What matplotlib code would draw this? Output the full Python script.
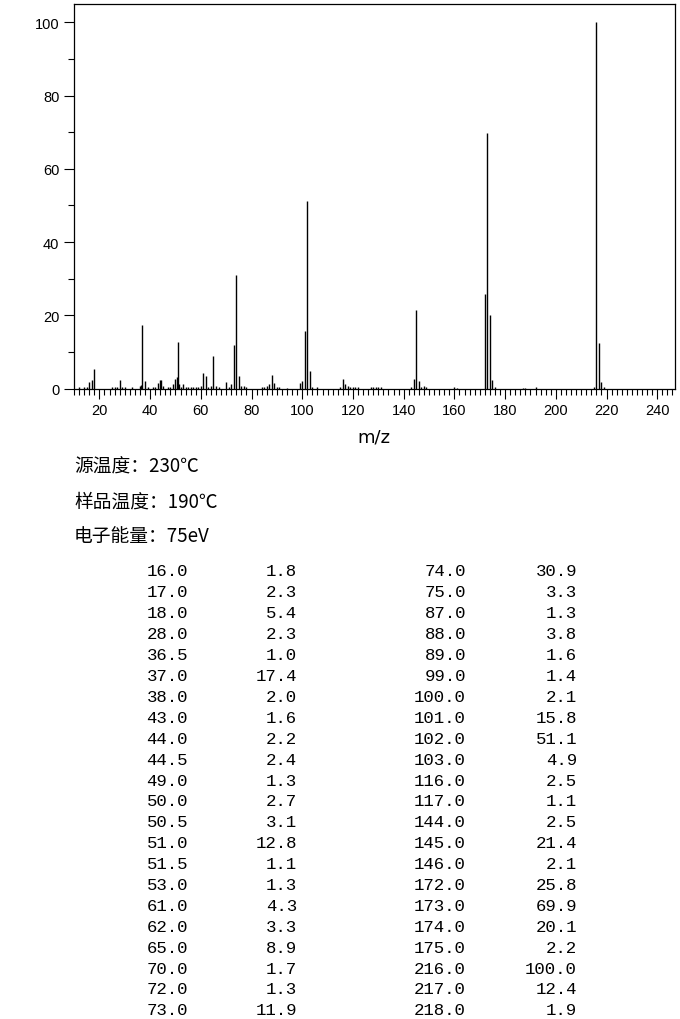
import numpy as np
import matplotlib.pyplot as plt
from matplotlib.ticker import MultipleLocator

# Picos listados en la tabla (m/z, intensidad relativa)
mz_tabla = [16.0, 17.0, 18.0, 28.0, 36.5, 37.0, 38.0, 43.0, 44.0, 44.5, 49.0,
            50.0, 50.5, 51.0, 51.5, 53.0, 61.0, 62.0, 65.0, 70.0, 72.0, 73.0,
            74.0, 75.0, 87.0, 88.0, 89.0, 99.0, 100.0, 101.0, 102.0, 103.0, 116.0,
            117.0, 144.0, 145.0, 146.0, 172.0, 173.0, 174.0, 175.0, 216.0, 217.0, 218.0]
int_tabla = [1.8, 2.3, 5.4, 2.3, 1.0, 17.4, 2.0, 1.6, 2.2, 2.4, 1.3,
             2.7, 3.1, 12.8, 1.1, 1.3, 4.3, 3.3, 8.9, 1.7, 1.3, 11.9,
             30.9, 3.3, 1.3, 3.8, 1.6, 1.4, 2.1, 15.8, 51.1, 4.9, 2.5,
             1.1, 2.5, 21.4, 2.1, 25.8, 69.9, 20.1, 2.2, 100.0, 12.4, 1.9]

mz_menor = [12, 14, 15, 25, 26, 27, 29, 30, 33, 36, 39, 41, 42, 45, 47, 48, 52,
            54, 55, 56, 57, 58, 59, 60, 63, 64, 66, 67, 71, 76, 77, 78, 84, 85, 86,
            90, 91, 94, 104, 106, 115, 118, 119, 120, 121, 122, 127, 128, 129, 130,
            131, 143, 147, 148, 149, 160, 161, 176, 187, 188, 192, 215, 219]
int_menor = [0.3, 0.4, 0.3, 0.3, 0.4, 0.5, 0.5, 0.3, 0.3, 0.6, 0.3, 0.4, 0.4, 0.8,
             0.3, 0.5, 0.5, 0.3, 0.3, 0.3, 0.3, 0.3, 0.5, 0.8, 0.5, 0.7, 0.7, 0.3,
             0.5, 0.8, 0.8, 0.3, 0.3, 0.3, 0.7, 0.5, 0.3, 0.2, 0.5, 0.3, 0.3, 0.6,
             0.4, 0.5, 0.3, 0.4, 0.3, 0.5, 0.3, 0.3, 0.5, 0.3, 0.4, 0.8, 0.3, 0.3,
             0.2, 0.3, 0.2, 0.2, 0.5, 0.4, 0.4]

condiciones = ['源温度：230℃', '样品温度：190℃', '电子能量：75eV']

W, H = 680, 1020
fig = plt.figure(figsize=(W / 100, H / 100), dpi=100)
ax = fig.add_axes([74 / W, 1 - 389.5 / H, (675 - 74) / W, (389.5 - 5) / H])

ax.vlines(mz_tabla + mz_menor, 0, int_tabla + int_menor, colors='black', linewidth=1)
ax.set_xlim(10, 247)
ax.set_ylim(0, 105)

ax.xaxis.set_major_locator(MultipleLocator(20))
ax.xaxis.set_minor_locator(MultipleLocator(2))
ax.yaxis.set_major_locator(MultipleLocator(20))
ax.yaxis.set_minor_locator(MultipleLocator(10))
ax.set_xticks(np.arange(20, 241, 20))
ax.tick_params(which='major', length=7.5, width=0.8, color='black',
               labelsize=10.5, pad=3)
ax.tick_params(which='minor', length=4.5, width=0.8, color='black')
for lbl in ax.get_xticklabels() + ax.get_yticklabels():
    lbl.set_family('Liberation Sans')
for s in ax.spines.values():
    s.set_linewidth(0.9)

fig.text(374 / W, 1 - 437 / H, 'm/z', ha='center', va='center',
         fontsize=13, family='DejaVu Sans')

for i, t in enumerate(condiciones):
    fig.text(74 / W, 1 - (467 + 35 * i) / H, t, ha='left', va='center',
             fontsize=13.5, family=['Noto Sans CJK SC', 'DejaVu Sans'])

# Tabla de picos en dos bloques
n = 22
y0, dy = 572, 20.9
cols = [(188, 297), (466, 577)]
for b, (xa, xb) in enumerate(cols):
    for j in range(n):
        k = b * n + j
        y = 1 - (y0 + dy * j) / H
        fig.text(xa / W, y, f'{mz_tabla[k]:.1f}', ha='right', va='center',
                 fontsize=12.5, family='Liberation Mono')
        fig.text(xb / W, y, f'{int_tabla[k]:.1f}', ha='right', va='center',
                 fontsize=12.5, family='Liberation Mono')

fig.savefig('out.png', dpi=100)
